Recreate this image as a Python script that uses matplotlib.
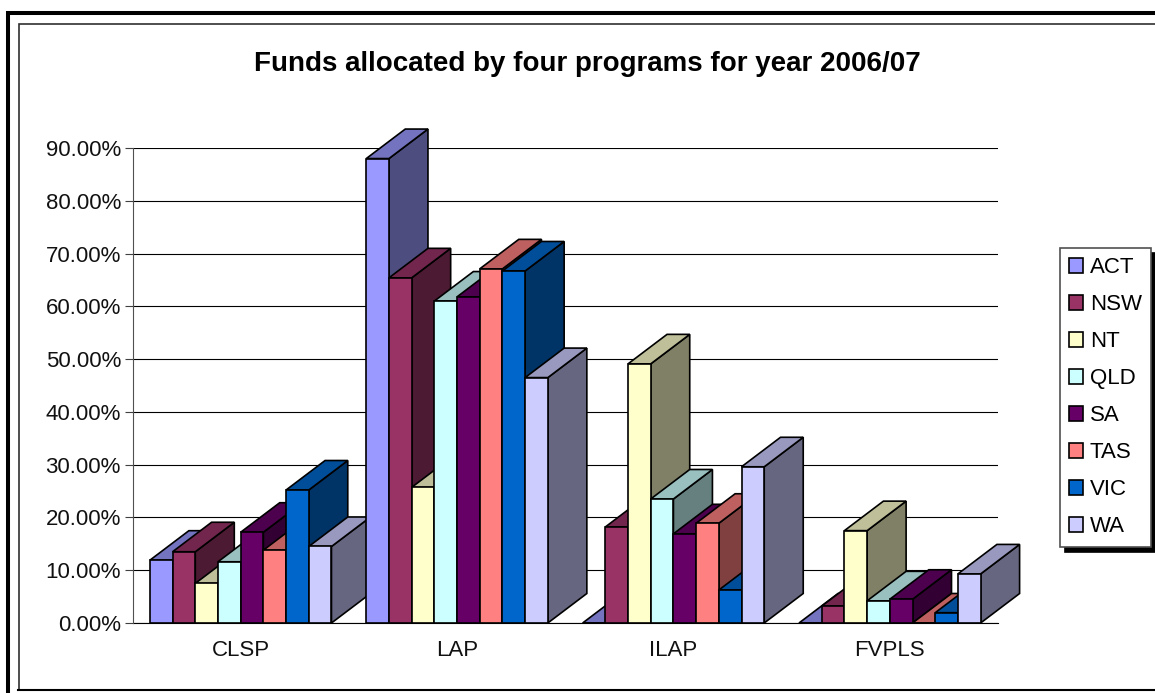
import matplotlib
matplotlib.use("Agg")
import matplotlib.pyplot as plt
from matplotlib.lines import Line2D
from matplotlib.patches import Patch, Polygon, Rectangle
from matplotlib.colors import to_rgb

plt.rcParams["font.family"] = ["Liberation Sans", "DejaVu Sans"]

categories = ["CLSP", "LAP", "ILAP", "FVPLS"]
states = ["ACT", "NSW", "NT", "QLD", "SA", "TAS", "VIC", "WA"]
colors = ["#9999FF", "#993366", "#FFFFCC", "#CCFFFF", "#660066", "#FF8080", "#0066CC", "#CCCCFF"]

act = [11.9, 88.0, 0.0, 0.0]
nsw = [13.5, 65.4, 18.2, 3.2]
nt = [7.5, 25.7, 49.1, 17.5]
qld = [11.6, 61.0, 23.5, 4.2]
sa = [17.2, 61.8, 16.9, 4.5]
tas = [13.8, 67.1, 18.9, 0.0]
vic = [25.2, 66.7, 6.25, 1.95]
wa = [14.5, 46.5, 29.6, 9.3]
series = [act, nsw, nt, qld, sa, tas, vic, wa]

W, H = 1155, 693
fig = plt.figure(figsize=(W / 100, H / 100), dpi=100)

# marco exterior y marco interior, en pixeles de la figura
def marco(x0, y0, x1, y1, color, lw):
    fig.add_artist(Rectangle((x0 / W, 1 - y1 / H), (x1 - x0) / W, (y1 - y0) / H,
                             fill=False, edgecolor=color, linewidth=lw,
                             transform=fig.transFigure))

marco(8, 13, 1165, 705, "black", 2.9)
marco(18.5, 23.5, 1165, 690, "#303030", 1.2)
fig.add_artist(Line2D([18 / W, 1], [1 - 690 / H, 1 - 690 / H], color="black", linewidth=1.5,
                      transform=fig.transFigure))

ax = fig.add_axes([132.5 / W, 1 - 623 / H, (998 - 132.5) / W, (623 - 148) / H])
ax.set_xlim(0, 4)
ax.set_ylim(0, 90)

ancho = 22.7 / 216.4
dx = 39 / 216.4
dy = 29.5 / 5.278
hueco = (1 - 8 * ancho) / 2

z = 3
for g in range(len(categories)):
    for s in range(len(states)):
        v = series[s][g]
        x0 = g + hueco + s * ancho
        x1 = x0 + ancho
        r, gr, b = to_rgb(colors[s])
        lado = (r * 0.5, gr * 0.5, b * 0.5)
        tapa = (r * 0.75, gr * 0.75, b * 0.75)
        caras = [
            ([(x1, 0), (x1 + dx, dy), (x1 + dx, v + dy), (x1, v)], lado),
            ([(x0, v), (x0 + dx, v + dy), (x1 + dx, v + dy), (x1, v)], tapa),
            ([(x0, 0), (x1, 0), (x1, v), (x0, v)], colors[s]),
        ]
        for pts, c in caras:
            ax.add_patch(Polygon(pts, closed=True, facecolor=c, edgecolor="black",
                                 linewidth=1.2, joinstyle="miter", clip_on=False, zorder=z))
            z += 1

ax.set_yticks(range(0, 100, 10))
ax.set_yticklabels(["%.2f%%" % t for t in range(0, 100, 10)], fontsize=16, color="#111111")
ax.set_xticks([i + 0.5 for i in range(4)])
ax.set_xticklabels(categories, fontsize=16, color="#111111")
ax.tick_params(axis="x", length=0, pad=12)
ax.tick_params(axis="y", length=5.8, width=0.8, color="#404040", pad=2.5)
ax.grid(axis="y", color="black", linewidth=0.8)
ax.set_axisbelow(True)
for lado_ax in ["top", "right"]:
    ax.spines[lado_ax].set_visible(False)
ax.spines["left"].set_color("#505050")
ax.spines["left"].set_linewidth(0.8)
ax.spines["bottom"].set_color("black")
ax.spines["bottom"].set_linewidth(0.8)
ax.spines["bottom"].set_zorder(2)

fig.text(587.5 / W, 1 - 64 / H, "Funds allocated by four programs for year 2006/07",
         fontsize=20, fontweight="bold", ha="center", va="center", color="black")

handles = [Patch(facecolor=c, edgecolor="black", linewidth=1.2, label=n) for c, n in zip(colors, states)]
leg = fig.legend(handles=handles, loc="upper left",
                 bbox_to_anchor=(1060 / W, 1 - 248 / H), bbox_transform=fig.transFigure,
                 fontsize=16, frameon=True, fancybox=False, edgecolor="#505050", framealpha=1,
                 shadow={"color": "black", "alpha": 1, "ox": 3.6, "oy": -3.6},
                 handlelength=0.6, handleheight=0.6, handletextpad=0.32,
                 labelspacing=0.72, borderaxespad=0, borderpad=0.42)
leg.get_frame().set_linewidth(1.2)

fig.savefig("out.png", dpi=100)
